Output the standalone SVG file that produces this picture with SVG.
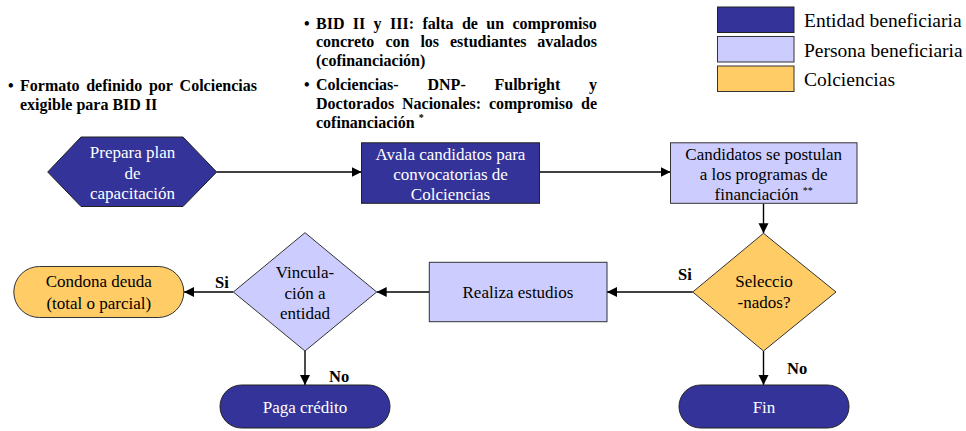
<svg xmlns="http://www.w3.org/2000/svg" width="966" height="431" viewBox="0 0 966 431" font-family="'Liberation Serif', Tinos, 'Times New Roman', serif">
<defs>
<marker id="ah" markerUnits="userSpaceOnUse" markerWidth="11" markerHeight="11" refX="10" refY="5" orient="auto">
<path d="M0,0 L10,5 L0,10 Z" fill="#000"/>
</marker>
</defs>
<rect width="966" height="431" fill="#ffffff"/>

<g id="legend">
<rect fill="#333399" stroke="#222" x="717.5" y="7" width="76.5" height="25.5"/>
<rect fill="#ccccff" stroke="#333" x="717.5" y="36.5" width="76.5" height="25.5"/>
<rect fill="#ffcc66" stroke="#333" x="717.5" y="66" width="76.5" height="25.5"/>
<text font-family="'Liberation Serif', Tinos, 'Times New Roman', serif" font-size="19.5" x="804" y="27">Entidad beneficiaria</text>
<text font-family="'Liberation Serif', Tinos, 'Times New Roman', serif" font-size="19.5" x="804" y="57">Persona beneficiaria</text>
<text font-family="'Liberation Serif', Tinos, 'Times New Roman', serif" font-size="19.5" x="804" y="85.5">Colciencias</text>
</g>

<g id="note-left">
<text font-family="'Liberation Serif', Tinos, 'Times New Roman', serif" font-size="16" font-weight="bold" x="8" y="91">•</text>
<text font-family="'Liberation Serif', Tinos, 'Times New Roman', serif" font-size="16" font-weight="bold" y="91"><tspan x="20">Formato</tspan><tspan x="86.2">definido</tspan><tspan x="148.9">por</tspan><tspan x="179.6">Colciencias</tspan></text>
<text font-family="'Liberation Serif', Tinos, 'Times New Roman', serif" font-size="16" font-weight="bold" x="20" y="109.5">exigible para BID II</text>
</g>

<g id="note-top">
<text font-family="'Liberation Serif', Tinos, 'Times New Roman', serif" font-size="16" font-weight="bold" x="304" y="28.5">•</text>
<text font-family="'Liberation Serif', Tinos, 'Times New Roman', serif" font-size="16" font-weight="bold" y="28.5"><tspan x="316">BID</tspan><tspan x="352.8">II</tspan><tspan x="373.6">y</tspan><tspan x="390">III:</tspan><tspan x="422.4">falta</tspan><tspan x="461.9">de</tspan><tspan x="486.3">un</tspan><tspan x="512.5">compromiso</tspan></text>
<text font-family="'Liberation Serif', Tinos, 'Times New Roman', serif" font-size="16" font-weight="bold" y="47"><tspan x="316">concreto</tspan><tspan x="385.5">con</tspan><tspan x="420.4">los</tspan><tspan x="450">estudiantes</tspan><tspan x="537.3">avalados</tspan></text>
<text font-family="'Liberation Serif', Tinos, 'Times New Roman', serif" font-size="16" font-weight="bold" x="316" y="65.5">(cofinanciación)</text>
<text font-family="'Liberation Serif', Tinos, 'Times New Roman', serif" font-size="16" font-weight="bold" x="304" y="90">•</text>
<text font-family="'Liberation Serif', Tinos, 'Times New Roman', serif" font-size="16" font-weight="bold" y="90"><tspan x="316">Colciencias-</tspan><tspan x="427.5">DNP-</tspan><tspan x="494.5">Fulbright</tspan><tspan x="589">y</tspan></text>
<text font-family="'Liberation Serif', Tinos, 'Times New Roman', serif" font-size="16" font-weight="bold" y="108.5"><tspan x="316">Doctorados</tspan><tspan x="402">Nacionales:</tspan><tspan x="488.9">compromiso</tspan><tspan x="581.1">de</tspan></text>
<text font-family="'Liberation Serif', Tinos, 'Times New Roman', serif" font-size="16" font-weight="bold" x="316" y="128">cofinanciación <tspan font-size="10" dy="-7">*</tspan></text>
</g>

<g id="connectors" stroke="#000" stroke-width="1.4" fill="none">
<line marker-end="url(#ah)" x1="216.7" y1="172" x2="361.5" y2="172"/>
<line marker-end="url(#ah)" x1="539.5" y1="172" x2="670.5" y2="172"/>
<line marker-end="url(#ah)" x1="763.5" y1="203.5" x2="763.5" y2="233.3"/>
<line marker-end="url(#ah)" x1="692.7" y1="292" x2="607" y2="292"/>
<line marker-end="url(#ah)" x1="429.3" y1="292" x2="376.7" y2="292"/>
<line marker-end="url(#ah)" x1="233.3" y1="292" x2="184" y2="292"/>
<line marker-end="url(#ah)" x1="305" y1="351" x2="305" y2="385"/>
<line marker-end="url(#ah)" x1="763.5" y1="351" x2="763.5" y2="385"/>
</g>
<g id="connector-labels">
<text font-family="'Liberation Serif', Tinos, 'Times New Roman', serif" font-size="16.5" font-weight="bold" x="678" y="280">Si</text>
<text font-family="'Liberation Serif', Tinos, 'Times New Roman', serif" font-size="16.5" font-weight="bold" x="215" y="288">Si</text>
<text font-family="'Liberation Serif', Tinos, 'Times New Roman', serif" font-size="16.5" font-weight="bold" x="329" y="382">No</text>
<text font-family="'Liberation Serif', Tinos, 'Times New Roman', serif" font-size="16.5" font-weight="bold" x="787" y="374">No</text>
</g>

<g id="prepara">
<polygon fill="#333399" stroke="#222" points="47.7,172 81,137 183,137 216.7,172 183,206.5 81,206.5"/>
<text font-family="'Liberation Serif', Tinos, 'Times New Roman', serif" font-size="17" text-anchor="middle" fill="#fff" x="132.5" y="158">Prepara plan</text>
<text font-family="'Liberation Serif', Tinos, 'Times New Roman', serif" font-size="17" text-anchor="middle" fill="#fff" x="132.5" y="178.5">de</text>
<text font-family="'Liberation Serif', Tinos, 'Times New Roman', serif" font-size="17" text-anchor="middle" fill="#fff" x="132.5" y="198.5">capacitación</text>
</g>

<g id="avala">
<rect fill="#333399" stroke="#222" x="361.5" y="142.8" width="178" height="60.5"/>
<text font-family="'Liberation Serif', Tinos, 'Times New Roman', serif" font-size="17" text-anchor="middle" fill="#fff" x="450.5" y="160">Avala candidatos para</text>
<text font-family="'Liberation Serif', Tinos, 'Times New Roman', serif" font-size="17" text-anchor="middle" fill="#fff" x="450.5" y="180">convocatorias de</text>
<text font-family="'Liberation Serif', Tinos, 'Times New Roman', serif" font-size="17" text-anchor="middle" fill="#fff" x="450.5" y="199.5">Colciencias</text>
</g>

<g id="candidatos">
<rect fill="#ccccff" stroke="#333" x="670.5" y="142.8" width="186.5" height="60.5"/>
<text font-family="'Liberation Serif', Tinos, 'Times New Roman', serif" font-size="17" text-anchor="middle" x="763.7" y="160">Candidatos se postulan</text>
<text font-family="'Liberation Serif', Tinos, 'Times New Roman', serif" font-size="17" text-anchor="middle" x="763.7" y="180">a los programas de</text>
<text font-family="'Liberation Serif', Tinos, 'Times New Roman', serif" font-size="17" text-anchor="middle" x="763.7" y="199.5">financiación <tspan font-size="10" dy="-6">**</tspan></text>
</g>

<g id="seleccionados">
<polygon fill="#ffcc66" stroke="#333" points="763.5,233.3 836,292 763.5,351 692.7,292"/>
<text font-family="'Liberation Serif', Tinos, 'Times New Roman', serif" font-size="17" text-anchor="middle" x="764" y="287">Seleccio</text>
<text font-family="'Liberation Serif', Tinos, 'Times New Roman', serif" font-size="17" text-anchor="middle" x="764" y="307.5">-nados?</text>
</g>

<g id="realiza">
<rect fill="#ccccff" stroke="#333" x="429.3" y="262.3" width="177.7" height="59.4"/>
<text font-family="'Liberation Serif', Tinos, 'Times New Roman', serif" font-size="17" text-anchor="middle" x="518" y="298">Realiza estudios</text>
</g>

<g id="vinculacion">
<polygon fill="#ccccff" stroke="#333" points="305,232.7 376.7,292 305,351 233.3,292"/>
<text font-family="'Liberation Serif', Tinos, 'Times New Roman', serif" font-size="17" text-anchor="middle" x="305" y="278">Vincula-</text>
<text font-family="'Liberation Serif', Tinos, 'Times New Roman', serif" font-size="17" text-anchor="middle" x="305" y="298.5">ción a</text>
<text font-family="'Liberation Serif', Tinos, 'Times New Roman', serif" font-size="17" text-anchor="middle" x="305" y="319">entidad</text>
</g>

<g id="condona">
<rect fill="#ffcc66" stroke="#333" x="13.8" y="266.5" width="170" height="51" rx="25.5"/>
<text font-family="'Liberation Serif', Tinos, 'Times New Roman', serif" font-size="17" text-anchor="middle" x="98.8" y="287">Condona deuda</text>
<text font-family="'Liberation Serif', Tinos, 'Times New Roman', serif" font-size="17" text-anchor="middle" x="98.8" y="308.5">(total o parcial)</text>
</g>

<g id="paga">
<rect fill="#333399" stroke="#222" x="220" y="385" width="170" height="43" rx="21.5"/>
<text font-family="'Liberation Serif', Tinos, 'Times New Roman', serif" font-size="17" text-anchor="middle" fill="#fff" x="305" y="412.5">Paga crédito</text>
</g>

<g id="fin">
<rect fill="#333399" stroke="#222" x="679" y="385" width="170" height="43" rx="21.5"/>
<text font-family="'Liberation Serif', Tinos, 'Times New Roman', serif" font-size="17" text-anchor="middle" fill="#fff" x="764" y="412.5">Fin</text>
</g>
</svg>
